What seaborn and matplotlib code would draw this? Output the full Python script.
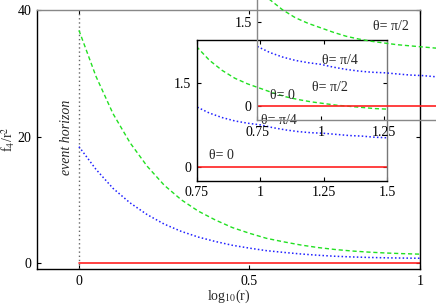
import matplotlib
matplotlib.use('Agg')
import matplotlib.pyplot as plt
import seaborn as sns

sns.set_style('ticks')
plt.rcParams['font.family'] = ['Liberation Serif', 'DejaVu Serif']
plt.rcParams['mathtext.fontset'] = 'stix'
plt.rcParams['font.size'] = 10

log_r = [0.0, 0.05, 0.1, 0.15, 0.2, 0.25, 0.3, 0.35, 0.4, 0.45, 0.5,
         0.55, 0.6, 0.65, 0.7, 0.75, 0.8, 0.85, 0.9, 0.95, 1.0,
         1.05, 1.1, 1.15, 1.2, 1.25, 1.3, 1.35, 1.4, 1.45, 1.5]
f_pi2 = [36.8, 29.5, 23.6, 19.0, 15.3, 12.3, 10.0, 8.2, 6.8, 5.6, 4.7,
         3.9, 3.35, 2.85, 2.45, 2.14, 1.9, 1.72, 1.58, 1.48, 1.40,
         1.32, 1.25, 1.2, 1.16, 1.13, 1.1, 1.08, 1.06, 1.04, 1.03]
f_pi4 = [18.4, 14.8, 11.8, 9.5, 7.65, 6.15, 5.0, 4.1, 3.4, 2.8, 2.35,
         1.95, 1.68, 1.43, 1.23, 1.07, 0.96, 0.88, 0.82, 0.78, 0.75,
         0.70, 0.66, 0.63, 0.61, 0.60, 0.58, 0.56, 0.55, 0.53, 0.52]
f_0 = [0.0] * len(log_r)

main_xticks = [0, 0.5, 1]
main_xlabels = ['0', '0.5', '1']
main_yticks = [0, 20, 40]
inset_xticks = [0.75, 1, 1.25, 1.5]
inset_xlabels = ['0.75', '1', '1.25', '1.5']
inset_yticks = [0, 1.5]
theta_labels = [('θ= 0', 0.80, 0.20), ('θ= π/4', 1.005, 0.82), ('θ= π/2', 1.205, 1.42)]


def draw_curves(ax, n=None):
    x = log_r[:n]
    sns.lineplot(x=x, y=f_pi2[:n], ax=ax, color='#22e022', lw=1, linestyle=(0, (3, 2)))
    sns.lineplot(x=x, y=f_pi4[:n], ax=ax, color='#2020ff', lw=1.1, linestyle=(0, (1, 1.5)))
    sns.lineplot(x=x, y=f_0[:n], ax=ax, color='#ff2020', lw=1.2)


def style_ticks(ax):
    ax.tick_params(direction='in', length=3, width=0.8, top=True, right=True,
                   labelsize=10, pad=4, colors='black')


fig = plt.figure(figsize=(4.36, 3.05), dpi=100)

# main panel
ax = fig.add_axes([0.0849, 0.118, 0.8784, 0.849], zorder=1)
ax.axvline(0, color='#666666', lw=1, linestyle=(0, (1, 2)))
draw_curves(ax, n=21)
ax.set_xlim(-0.123, 1)
ax.set_ylim(-0.95, 40)
ax.set_xticks(main_xticks, main_xlabels)
ax.set_yticks(main_yticks)
style_ticks(ax)
ax.set_xlabel('log$_{10}$(r)', labelpad=0)
ax.set_ylabel('f$_4$/r$^2$', labelpad=0.5)
ax.text(-0.036, 19.9, 'event horizon', rotation=90, style='italic',
        ha='center', va='center')
for s in ax.spines.values():
    s.set_color('black')
    s.set_linewidth(1)
ax.spines['top'].set_color('#888888')

# inset zoom, and its shifted copy
ax2 = fig.add_axes([0.4511, 0.4075, 0.4372, 0.4613], zorder=2)
ax3 = fig.add_axes([0.5899, 0.6059, 0.4372, 0.4613], zorder=3)
ax3.patch.set_alpha(0)
for a in (ax2, ax3):
    draw_curves(a)
    a.set_xlim(0.75, 1.5)
    a.set_ylim(-0.244, 2.26)
    a.set_xticks(inset_xticks, inset_xlabels)
    a.set_yticks(inset_yticks, ['0', '1.5'])
    style_ticks(a)
    a.set_xlabel('')
    a.set_ylabel('')
    for txt, x, y in theta_labels:
        a.text(x, y, txt, ha='left', va='center')
    for s in a.spines.values():
        s.set_linewidth(1)
        s.set_color('black')
ax2.spines['right'].set_color('#777777')
# the copy runs off the page, its last tick label is not shown
ax3.set_xticks(inset_xticks[:3], inset_xlabels[:3])
for s in ax3.spines.values():
    s.set_color('#888888')

fig.savefig('out.png', dpi=100)
